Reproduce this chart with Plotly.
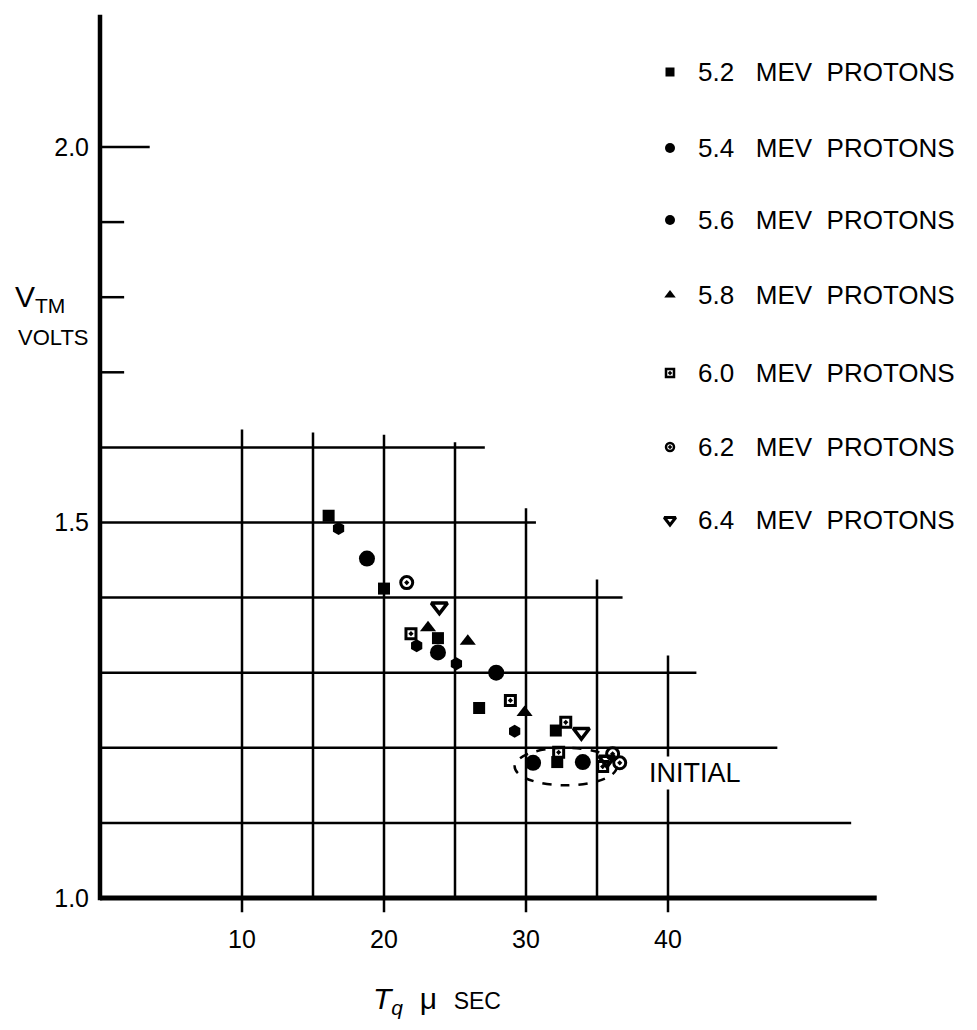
import plotly.graph_objects as go

# ---------------- data ----------------
series_names = ["5.2", "5.4", "5.6", "5.8", "6.0", "6.2", "6.4"]

tq_52 = [16.1, 20.0, 23.8, 26.7, 32.1, 32.2]
v_52 = [1.509, 1.412, 1.346, 1.253, 1.223, 1.181]

tq_54 = [16.8, 22.3, 25.1, 29.2]
v_54 = [1.492, 1.336, 1.312, 1.222]

tq_56 = [18.8, 23.8, 27.9, 30.5, 34.0]
v_56 = [1.452, 1.327, 1.300, 1.180, 1.181]

tq_58 = [23.1, 25.9, 29.9]
v_58 = [1.360, 1.342, 1.247]

tq_60 = [21.9, 28.9, 32.8, 32.3, 35.4]
v_60 = [1.352, 1.263, 1.234, 1.194, 1.175]

tq_62 = [21.6, 36.1, 36.6]
v_62 = [1.420, 1.192, 1.180]

tq_64 = [23.9, 33.9, 35.7]
v_64 = [1.388, 1.221, 1.184]

x_tick_vals = [10, 20, 30, 40]
y_tick_vals = [1.0, 1.5, 2.0]
y_tick_text = ["1.0", "1.5", "2.0"]

# grid as drawn on the original graph paper
h_grid_levels = [1.1, 1.2, 1.3, 1.4, 1.5, 1.6]
h_grid_ends = [52.9, 47.7, 42.0, 36.8, 30.7, 27.1]
v_grid_levels = [10, 15, 20, 25, 30, 35, 40]
v_grid_tops = [1.624, 1.620, 1.617, 1.607, 1.519, 1.424, 1.323]
minor_y_ticks = [1.7, 1.8, 1.9]

# ---------------- geometry ----------------
OFF = 8                     # page margin around the figure
W, H = 977 - OFF, 1030 - OFF
SX, SY = 14.2, 751.0        # px per unit
X0_PX, Y1_PX = 100 - OFF, 898 - OFF   # figure pixel of x=0 and y=1.0
L, R, T, B = 82, 50, 2, 108
plot_w = W - L - R
plot_h = H - T - B
x_lo = -(X0_PX - L) / SX
x_hi = x_lo + plot_w / SX
y_hi = 1.0 + (Y1_PX - T) / SY
y_lo = y_hi - plot_h / SY


def px_to_paper(px, py):
    """screen pixel of the reference -> paper fraction"""
    px -= OFF
    py -= OFF
    return (px - L) / plot_w, (H - B - py) / plot_h


FONT = "Liberation Sans, Arial, sans-serif"
INK = "black"

styles = {
    "5.2": dict(symbol="square", size=12, color=INK, line=dict(width=0)),
    "5.4": dict(symbol="hexagon", size=13, color=INK, line=dict(width=0)),
    "5.6": dict(symbol="circle", size=16, color=INK, line=dict(width=0)),
    "5.8": dict(symbol="triangle-up", size=14, color=INK, line=dict(width=0)),
    "6.0": dict(symbol="square-open-dot", size=10, color=INK, line=dict(width=3, color=INK)),
    "6.2": dict(symbol="circle-open-dot", size=12, color=INK, line=dict(width=3, color=INK)),
    "6.4": dict(symbol="triangle-down-open", size=14, color=INK, line=dict(width=3.5, color=INK)),
}
legend_styles = {
    "5.2": dict(symbol="square", size=9, color=INK, line=dict(width=0)),
    "5.4": dict(symbol="circle", size=10, color=INK, line=dict(width=0)),
    "5.6": dict(symbol="circle", size=10, color=INK, line=dict(width=0)),
    "5.8": dict(symbol="triangle-up", size=10, color=INK, line=dict(width=0)),
    "6.0": dict(symbol="square-open-dot", size=8, color=INK, line=dict(width=2.5, color=INK)),
    "6.2": dict(symbol="circle-open-dot", size=8, color=INK, line=dict(width=2.5, color=INK)),
    "6.4": dict(symbol="triangle-down-open", size=10, color=INK, line=dict(width=3, color=INK)),
}

data = {
    "5.2": (tq_52, v_52), "5.4": (tq_54, v_54), "5.6": (tq_56, v_56),
    "5.8": (tq_58, v_58), "6.0": (tq_60, v_60), "6.2": (tq_62, v_62),
    "6.4": (tq_64, v_64),
}

fig = go.Figure()
for name in series_names:
    xs, ys = data[name]
    fig.add_trace(go.Scatter(
        x=xs, y=ys, mode="markers", name=name + " MEV PROTONS",
        marker=styles[name], showlegend=False, cliponaxis=False,
    ))

# ---- hand-made legend (overlay axis in 0..1 units) ----
legend_rows_px = [72, 148, 220, 295, 373, 447, 520]
legend_marker_px = 670
legend_text_px = 696
for name, rpx in zip(series_names, legend_rows_px):
    fx, fy = px_to_paper(legend_marker_px, rpx)
    fig.add_trace(go.Scatter(
        x=[fx], y=[fy], mode="markers", xaxis="x2", yaxis="y2",
        marker=legend_styles[name], showlegend=False, cliponaxis=False,
        hoverinfo="skip",
    ))
    tx, ty = px_to_paper(legend_text_px, rpx)
    fig.add_annotation(
        x=tx, y=ty, xref="paper", yref="paper", xanchor="left", yanchor="middle",
        text=name + "\u00a0\u00a0\u00a0MEV\u00a0\u00a0PROTONS", showarrow=False,
        font=dict(family=FONT, size=26, color=INK),
    )

shapes = []
# horizontal grid lines
for lvl, end in zip(h_grid_levels, h_grid_ends):
    shapes.append(dict(type="line", xref="x", yref="y", x0=0, x1=end, y0=lvl, y1=lvl,
                       line=dict(color=INK, width=2.5), layer="below"))
# vertical grid lines (the labelled ones poke below the axis)
for lvl, top in zip(v_grid_levels, v_grid_tops):
    bottom = 0.981 if lvl % 10 == 0 else 1.0
    shapes.append(dict(type="line", xref="x", yref="y", x0=lvl, x1=lvl, y0=bottom, y1=top,
                       line=dict(color=INK, width=2.5), layer="below"))
# axes
shapes.append(dict(type="line", xref="x", yref="y", x0=0, x1=0, y0=0.997, y1=2.176,
                   line=dict(color=INK, width=4.5), layer="below"))
shapes.append(dict(type="line", xref="x", yref="y", x0=0, x1=54.7, y0=1.0, y1=1.0,
                   line=dict(color=INK, width=5), layer="below"))
# y-axis ticks
shapes.append(dict(type="line", xref="x", yref="y", x0=0, x1=3.5, y0=2.0, y1=2.0,
                   line=dict(color=INK, width=2.5), layer="below"))
for lvl in minor_y_ticks:
    shapes.append(dict(type="line", xref="x", yref="y", x0=0, x1=1.7, y0=lvl, y1=lvl,
                       line=dict(color=INK, width=2.5), layer="below"))
# dashed ring around the initial values
shapes.append(dict(type="circle", xref="x", yref="y", x0=29.2, x1=36.4, y0=1.150, y1=1.200,
                   line=dict(color=INK, width=2.5, dash="dash"), layer="below"))

fig.update_layout(shapes=shapes)

# INITIAL label (white box breaks the grid line, as on the original)
fig.add_annotation(x=41.9, y=1.166, xref="x", yref="y", text="INITIAL", showarrow=False,
                   font=dict(family=FONT, size=27, color=INK), bgcolor="white",
                   xanchor="center", yanchor="middle", borderpad=1)

# axis titles
vx, vy = px_to_paper(40, 298)
fig.add_annotation(x=vx, y=vy, xref="paper", yref="paper", showarrow=False,
                   text="V<sub>TM</sub>", font=dict(family=FONT, size=30, color=INK),
                   xanchor="center", yanchor="middle")
vx, vy = px_to_paper(53, 337)
fig.add_annotation(x=vx, y=vy, xref="paper", yref="paper", showarrow=False,
                   text="VOLTS", font=dict(family=FONT, size=22, color=INK),
                   xanchor="center", yanchor="middle")
tx, ty = px_to_paper(437, 1000)
fig.add_annotation(x=tx, y=ty, xref="paper", yref="paper", showarrow=False,
                   text="<i>T<sub>q</sub></i>\u00a0\u00a0\u03bc\u00a0\u00a0<span style='font-size:23px'>SEC</span>",
                   font=dict(family=FONT, size=30, color=INK),
                   xanchor="center", yanchor="middle")

fig.update_layout(
    width=W, height=H,
    margin=dict(l=L, r=R, t=T, b=B, autoexpand=False),
    paper_bgcolor="white", plot_bgcolor="white",
    template="none",
    font=dict(family=FONT, color=INK),
    xaxis=dict(range=[x_lo, x_hi], showgrid=False, zeroline=False, showline=False,
               tickvals=x_tick_vals, ticks="", tickfont=dict(family=FONT, size=25, color=INK),
               automargin=False, fixedrange=True),
    yaxis=dict(range=[y_lo, y_hi], showgrid=False, zeroline=False, showline=False,
               tickvals=y_tick_vals, ticktext=y_tick_text, ticks="",
               tickfont=dict(family=FONT, size=25, color=INK), automargin=False, fixedrange=True),
    xaxis2=dict(overlaying="x", anchor="y2", range=[0, 1], visible=False, fixedrange=True),
    yaxis2=dict(overlaying="y", anchor="x2", range=[0, 1], visible=False, fixedrange=True),
    showlegend=False,
)

fig.write_html("out.html")
